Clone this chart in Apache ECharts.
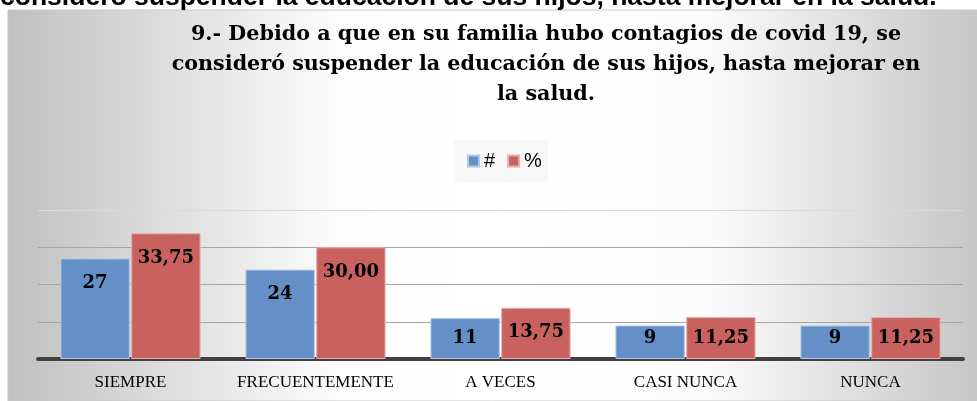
<!DOCTYPE html>
<html>
<head>
<meta charset="utf-8">
<script src="https://cdn.jsdelivr.net/npm/echarts@6/dist/echarts.min.js"></script>
<style>
  html, body { margin: 0; padding: 0; background: #fff; }
  #main { width: 977px; height: 401px; }
</style>
</head>
<body>
<div id="main"></div>
<script>
var categories = ['SIEMPRE', 'FRECUENTEMENTE', 'A VECES', 'CASI NUNCA', 'NUNCA'];
var countValues = [27, 24, 11, 9, 9];
var percentValues = [33.75, 30.00, 13.75, 11.25, 11.25];
var seriesNames = ['#', '%'];
var yTicks = [0, 10, 20, 30, 40];

var titleText = '9.- Debido a que en su familia hubo contagios de covid 19, se\nconsideró suspender la educación de sus hijos, hasta mejorar en\nla salud.';
var topText = 'consideró suspender la educación de sus hijos, hasta mejorar en la salud.';

// short bars get their label pushed up from the bottom, like excel does
function toItems(values, fmt) {
    return values.map(function (v) {
        return {
            value: v,
            label: v > 12.3
                ? { position: 'insideTop', distance: 16 }
                : { position: 'insideBottom', distance: 12 },
            _txt: fmt(v)
        };
    });
}

var dom = document.getElementById('main');
var myChart = echarts.init(dom, null, { renderer: 'canvas' });

var labelFont = {
    show: true,
    color: '#000',
    fontFamily: 'DejaVu Serif',
    fontWeight: 'bold',
    fontSize: 18
};

var option = {
    animation: false,
    graphic: [
        {
            type: 'rect',
            z: -10,
            shape: { x: 8, y: 10, width: 969, height: 391 },
            style: {
                fill: new echarts.graphic.LinearGradient(0, 0, 1, 0, [
                    { offset: 0, color: '#c0c0c0' },
                    { offset: 0.34, color: '#fdfdfd' },
                    { offset: 0.5, color: '#ffffff' },
                    { offset: 0.72, color: '#fcfcfc' },
                    { offset: 1, color: '#c6c6c6' }
                ]),
                stroke: '#c8c8c8',
                lineWidth: 1
            }
        },
        {
            type: 'text',
            z: 10,
            style: {
                text: topText,
                x: 0,
                y: -2,
                verticalAlign: 'middle',
                font: 'bold 26.5px "Liberation Sans"',
                fill: '#000'
            }
        }
    ],
    title: {
        text: titleText,
        left: 541,
        top: 15,
        textAlign: 'center',
        textStyle: {
            fontFamily: 'DejaVu Serif',
            fontWeight: 'bold',
            fontSize: 20.7,
            lineHeight: 30,
            color: '#000'
        }
    },
    legend: {
        data: seriesNames,
        left: 454,
        top: 140,
        padding: [11, 6, 11, 13],
        backgroundColor: '#f8f8f8',
        itemWidth: 11,
        itemHeight: 11,
        itemGap: 12,
        icon: 'rect',
        textStyle: {
            fontFamily: 'Liberation Sans',
            fontSize: 20,
            color: '#000'
        }
    },
    grid: {
        left: 38,
        right: 14,
        top: 210,
        bottom: 42
    },
    xAxis: {
        type: 'category',
        data: categories,
        axisLine: { lineStyle: { color: '#404040', width: 4 } },
        axisTick: { show: false },
        axisLabel: {
            interval: 0,
            margin: 15,
            color: '#000',
            fontFamily: 'Liberation Serif',
            fontSize: 17
        }
    },
    yAxis: {
        type: 'value',
        min: yTicks[0],
        max: yTicks[yTicks.length - 1],
        interval: 10,
        axisLabel: { show: false },
        axisLine: { show: false },
        axisTick: { show: false },
        splitLine: {
            lineStyle: {
                color: ['#a6a6a6', '#a6a6a6', '#a6a6a6', '#a6a6a6', '#dadada'],
                width: 1
            }
        }
    },
    series: [
        {
            name: seriesNames[0],
            type: 'bar',
            barWidth: '37.5%',
            barGap: '2%',
            data: toItems(countValues, function (v) { return String(v); }),
            itemStyle: {
                color: '#6590c7',
                borderColor: '#b3c7e4',
                borderWidth: 1
            },
            label: Object.assign({
                formatter: function (p) { return p.data._txt; }
            }, labelFont)
        },
        {
            name: seriesNames[1],
            type: 'bar',
            barWidth: '37.5%',
            data: toItems(percentValues, function (v) { return v.toFixed(2).replace('.', ','); }),
            itemStyle: {
                color: '#c9625f',
                borderColor: '#e6aeac',
                borderWidth: 1
            },
            label: Object.assign({
                formatter: function (p) { return p.data._txt; }
            }, labelFont)
        }
    ]
};

myChart.setOption(option);
</script>
</body>
</html>
